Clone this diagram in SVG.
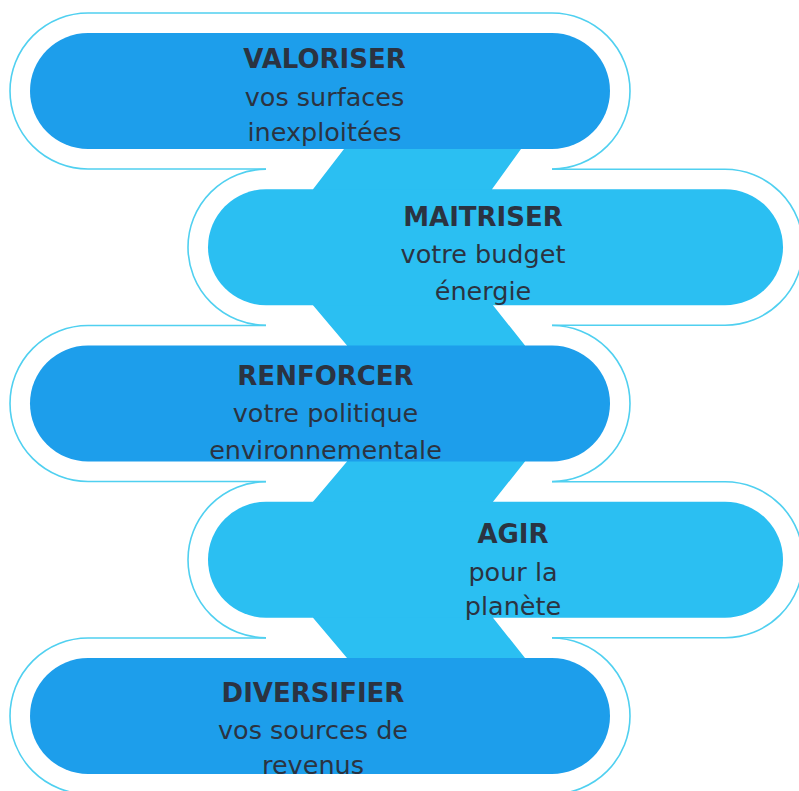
<svg xmlns="http://www.w3.org/2000/svg" width="799" height="791" viewBox="0 0 799 791">
  <style>
    .pill-dark { fill: #1d9eeb; }
    .pill-light { fill: #2bbff2; }
    .band { fill: #2bbff2; }
    .ring { fill: none; stroke: #50d0f0; stroke-width: 1.6; }
    .t { font-family: "DejaVu Sans", Verdana, sans-serif; font-size: 25.5px; fill: #2b3341; text-anchor: middle; }
    .h { font-weight: bold; font-size: 26px; }
  </style>
  <rect width="799" height="791" fill="#ffffff"/>

  <!-- zigzag ribbon linking the steps -->
  <g id="connectors">
    <polygon class="band" points="344,120 521,120 521,149 492,189.25 492,200 313,200 313,189.25 344,149"/>
    <polygon class="band" points="313,290 493,290 493,305.25 525,345.5 525,360 347,360 347,345.5 313,305.25"/>
    <polygon class="band" points="347,445 525,445 525,461.5 493,501.75 493,515 313,515 313,501.75 347,461.5"/>
    <polygon class="band" points="313,600 493,600 493,617.75 525,658 525,672 347,672 347,658 313,617.75"/>
  </g>

  <g id="step-valoriser">
    <path class="ring" d="M266 169 H88 A78 78 0 0 1 88 13 H552 A78 78 0 0 1 552 169"/>
    <rect class="pill-dark" x="30" y="33" width="580" height="116" rx="58"/>
    <text class="t h" x="324.5" y="68">VALORISER</text>
    <text class="t" x="324.5" y="106">vos surfaces</text>
    <text class="t" x="324.5" y="141">inexploitées</text>
  </g>

  <g id="step-maitriser">
    <path class="ring" d="M552 169.25 H725 A78 78 0 0 1 725 325.25 H552"/>
    <path class="ring" d="M266 169.25 A78 78 0 0 0 266 325.25"/>
    <rect class="pill-light" x="208" y="189.25" width="575" height="116" rx="58"/>
    <text class="t h" x="483" y="226">MAITRISER</text>
    <text class="t" x="483" y="263">votre budget</text>
    <text class="t" x="483" y="300">énergie</text>
  </g>

  <g id="step-renforcer">
    <path class="ring" d="M266 325.5 H88 A78 78 0 0 0 88 481.5 H266"/>
    <path class="ring" d="M552 325.5 A78 78 0 0 1 552 481.5"/>
    <rect class="pill-dark" x="30" y="345.5" width="580" height="116" rx="58"/>
    <text class="t h" x="325.5" y="385">RENFORCER</text>
    <text class="t" x="325.5" y="422">votre politique</text>
    <text class="t" x="325.5" y="459">environnementale</text>
  </g>

  <g id="step-agir">
    <path class="ring" d="M552 481.75 H725 A78 78 0 0 1 725 637.75 H552"/>
    <path class="ring" d="M266 481.75 A78 78 0 0 0 266 637.75"/>
    <rect class="pill-light" x="208" y="501.75" width="575" height="116" rx="58"/>
    <text class="t h" x="513" y="543">AGIR</text>
    <text class="t" x="513" y="581">pour la</text>
    <text class="t" x="513" y="615">planète</text>
  </g>

  <g id="step-diversifier">
    <path class="ring" d="M266 638 H88 A78 78 0 0 0 88 794 H552 A78 78 0 0 0 552 638"/>
    <rect class="pill-dark" x="30" y="658" width="580" height="116" rx="58"/>
    <text class="t h" x="313" y="702">DIVERSIFIER</text>
    <text class="t" x="313" y="739">vos sources de</text>
    <text class="t" x="313" y="774">revenus</text>
  </g>
</svg>
